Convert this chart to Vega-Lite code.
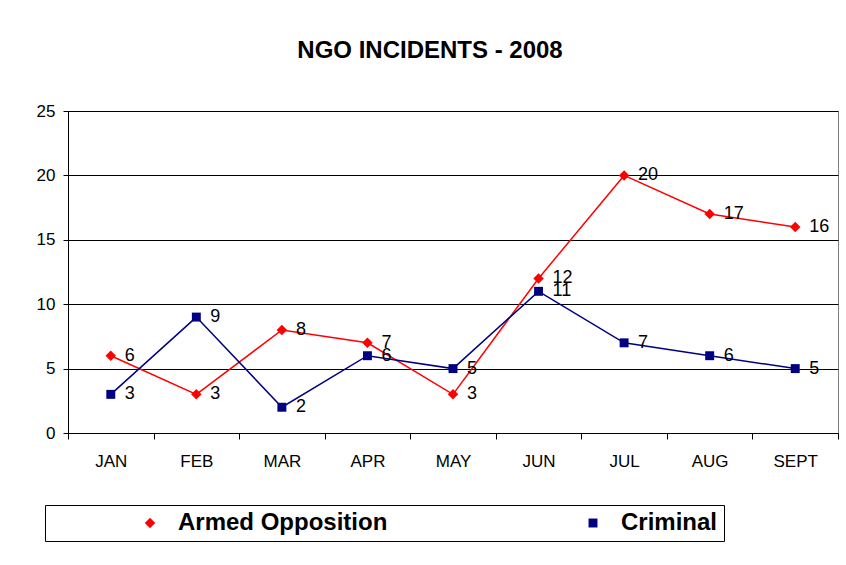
{
  "$schema": "https://vega.github.io/schema/vega-lite/v6.json",
  "autosize": "none",
  "width": 770,
  "height": 322,
  "padding": {"left": 68, "top": 111, "right": 8, "bottom": 132},
  "background": "white",
  "config": {
    "view": {"stroke": "#808080", "strokeWidth": 1},
    "font": "Liberation Sans"
  },
  "title": {
    "text": "NGO INCIDENTS - 2008",
    "font": "Liberation Sans",
    "fontSize": 24,
    "fontWeight": "bold",
    "color": "black",
    "anchor": "middle",
    "frame": "group",
    "dx": -23,
    "offset": 20,
    "baseline": "alphabetic"
  },
  "data": {
    "values": [
      {"month": "JAN", "series": "Armed Opposition", "value": 6},
      {"month": "FEB", "series": "Armed Opposition", "value": 3},
      {"month": "MAR", "series": "Armed Opposition", "value": 8},
      {"month": "APR", "series": "Armed Opposition", "value": 7},
      {"month": "MAY", "series": "Armed Opposition", "value": 3},
      {"month": "JUN", "series": "Armed Opposition", "value": 12},
      {"month": "JUL", "series": "Armed Opposition", "value": 20},
      {"month": "AUG", "series": "Armed Opposition", "value": 17},
      {"month": "SEPT", "series": "Armed Opposition", "value": 16},
      {"month": "JAN", "series": "Criminal", "value": 3},
      {"month": "FEB", "series": "Criminal", "value": 9},
      {"month": "MAR", "series": "Criminal", "value": 2},
      {"month": "APR", "series": "Criminal", "value": 6},
      {"month": "MAY", "series": "Criminal", "value": 5},
      {"month": "JUN", "series": "Criminal", "value": 11},
      {"month": "JUL", "series": "Criminal", "value": 7},
      {"month": "AUG", "series": "Criminal", "value": 6},
      {"month": "SEPT", "series": "Criminal", "value": 5}
    ]
  },
  "encoding": {
    "x": {
      "field": "month",
      "type": "ordinal",
      "sort": ["JAN", "FEB", "MAR", "APR", "MAY", "JUN", "JUL", "AUG", "SEPT"],
      "scale": {"type": "band", "paddingInner": 0, "paddingOuter": 0},
      "axis": {
        "title": null,
        "labelAngle": 0,
        "labelFont": "Liberation Sans",
        "labelFontSize": 17,
        "labelColor": "black",
        "labelPadding": 14,
        "domainColor": "black",
        "tickColor": "black",
        "tickSize": 6,
        "tickBand": "extent",
        "grid": false
      }
    },
    "y": {
      "field": "value",
      "type": "quantitative",
      "scale": {"domain": [0, 25], "nice": false},
      "axis": {
        "title": null,
        "values": [0, 5, 10, 15, 20, 25],
        "labelFont": "Liberation Sans",
        "labelFontSize": 17,
        "labelColor": "black",
        "labelPadding": 8,
        "domainColor": "black",
        "tickColor": "black",
        "tickSize": 5,
        "grid": true,
        "gridColor": "#000000",
        "gridOpacity": 1
      }
    }
  },
  "layer": [
    {
      "mark": {"type": "line", "strokeWidth": 1.5},
      "encoding": {
        "color": {
          "field": "series",
          "type": "nominal",
          "scale": {"domain": ["Armed Opposition", "Criminal"], "range": ["#FF0000", "#000080"]},
          "legend": {
            "orient": "none",
            "legendX": -23,
            "legendY": 394,
            "direction": "horizontal",
            "columns": 2,
            "columnPadding": 193,
            "padding": 6,
            "strokeColor": "black",
            "fillColor": "white",
            "title": "\u00a0",
            "titleOrient": "left",
            "titleFontSize": 24,
            "titlePadding": 87,
            "labelFont": "Liberation Sans",
            "labelFontSize": 24,
            "labelFontWeight": "bold",
            "labelColor": "black",
            "labelOffset": 16,
            "labelLimit": 1000,
            "symbolSize": 400,
            "symbolStrokeWidth": 0,
            "symbolOpacity": 1
          }
        }
      }
    },
    {
      "mark": {"type": "point", "filled": true, "opacity": 1},
      "encoding": {
        "color": {
          "field": "series",
          "type": "nominal",
          "scale": {"domain": ["Armed Opposition", "Criminal"], "range": ["#FF0000", "#000080"]},
          "legend": null
        },
        "shape": {
          "field": "series",
          "type": "nominal",
          "scale": {"domain": ["Armed Opposition", "Criminal"], "range": ["diamond", "square"]},
          "legend": null
        },
        "size": {
          "field": "series",
          "type": "nominal",
          "scale": {"domain": ["Armed Opposition", "Criminal"], "range": [110, 80]},
          "legend": null
        }
      }
    },
    {
      "mark": {"type": "text", "align": "left", "baseline": "middle", "dx": 14, "font": "Liberation Sans", "fontSize": 18},
      "encoding": {
        "text": {"field": "value", "type": "quantitative"},
        "color": {"value": "black"}
      }
    }
  ]
}
